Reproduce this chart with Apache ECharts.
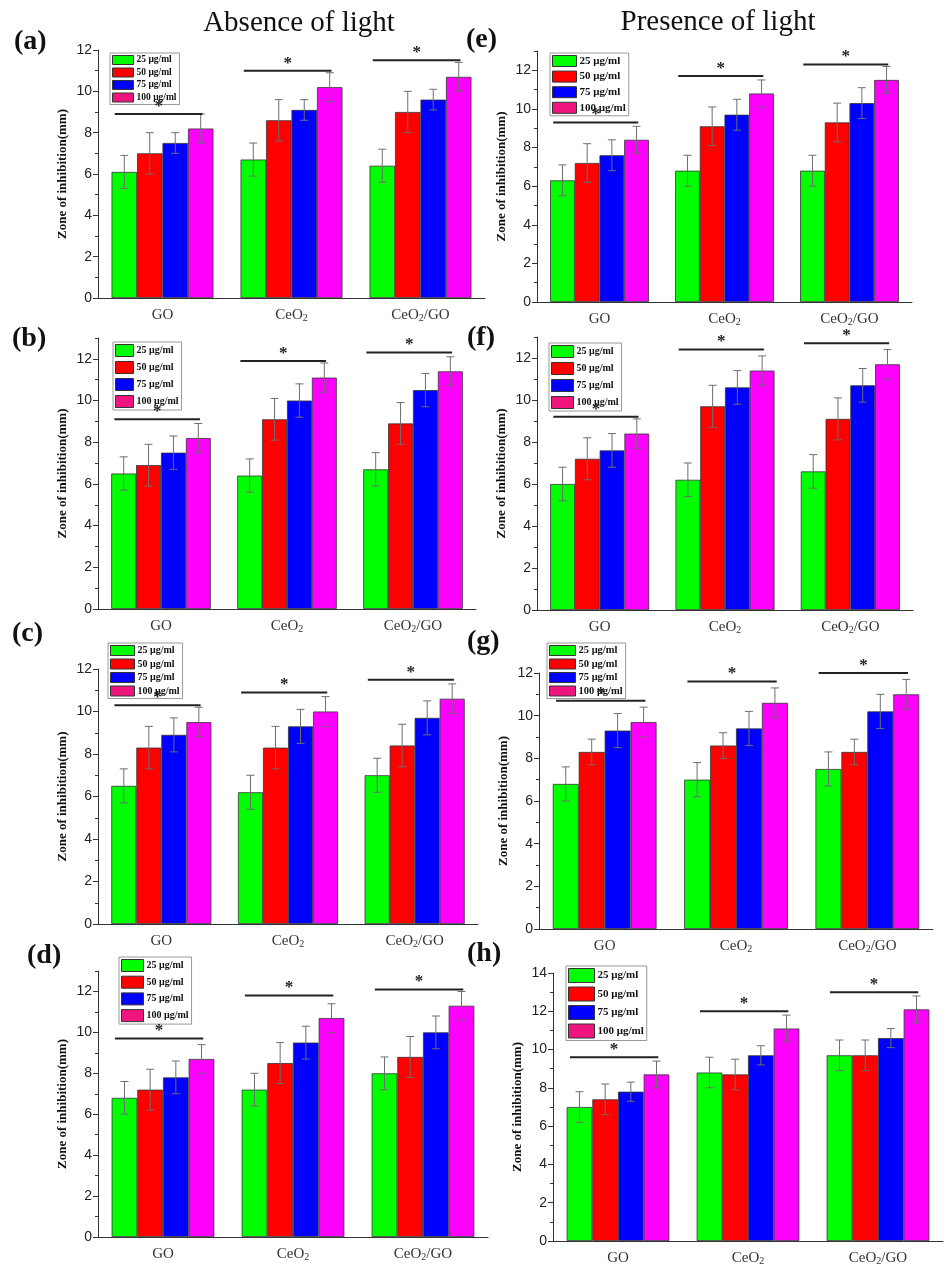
<!DOCTYPE html>
<html><head><meta charset="utf-8">
<script src="https://cdn.jsdelivr.net/npm/echarts@6/dist/echarts.min.js"></script>
<style>html,body{margin:0;padding:0;background:#fff}#c{width:945px;height:1266px}</style>
</head><body><div id="c"></div>
<script>
// ---------- DATA ----------
const categories = ['GO', 'CeO2', 'CeO2/GO'];
const concentrations = ['25 μg/ml', '50 μg/ml', '75 μg/ml', '100 μg/ml'];
const columnTitles = ['Absence of light', 'Presence of light'];
const panelLabels = ['(a)', '(b)', '(c)', '(d)', '(e)', '(f)', '(g)', '(h)'];
const yAxisTitle = 'Zone of inhibition(mm)';
const significanceMark = '*';

// each inner array = one concentration across [GO, CeO2, CeO2/GO]
const aValues = [[6.1, 6.7, 6.4], [7.0, 8.6, 9.0], [7.5, 9.1, 9.6], [8.2, 10.2, 10.7]];
const aErrors = [[0.8, 0.8, 0.8], [1.0, 1.0, 1.0], [0.5, 0.5, 0.5], [0.7, 0.7, 0.7]];
const aSignif = [8.9, 11.0, 11.5];

const bValues = [[6.5, 6.4, 6.7], [6.9, 9.1, 8.9], [7.5, 10.0, 10.5], [8.2, 11.1, 11.4]];
const bErrors = [[0.8, 0.8, 0.8], [1.0, 1.0, 1.0], [0.8, 0.8, 0.8], [0.7, 0.7, 0.7]];
const bSignif = [9.1, 11.9, 12.3];

const cValues = [[6.5, 6.2, 7.0], [8.3, 8.3, 8.4], [8.9, 9.3, 9.7], [9.5, 10.0, 10.6]];
const cErrors = [[0.8, 0.8, 0.8], [1.0, 1.0, 1.0], [0.8, 0.8, 0.8], [0.7, 0.7, 0.7]];
const cSignif = [10.3, 10.9, 11.5];

const dValues = [[6.8, 7.2, 8.0], [7.2, 8.5, 8.8], [7.8, 9.5, 10.0], [8.7, 10.7, 11.3]];
const dErrors = [[0.8, 0.8, 0.8], [1.0, 1.0, 1.0], [0.8, 0.8, 0.8], [0.7, 0.7, 0.7]];
const dSignif = [9.7, 11.8, 12.1];

const eValues = [[6.3, 6.8, 6.8], [7.2, 9.1, 9.3], [7.6, 9.7, 10.3], [8.4, 10.8, 11.5]];
const eErrors = [[0.8, 0.8, 0.8], [1.0, 1.0, 1.0], [0.8, 0.8, 0.8], [0.7, 0.7, 0.7]];
const eSignif = [9.3, 11.7, 12.3];

const fValues = [[6.0, 6.2, 6.6], [7.2, 9.7, 9.1], [7.6, 10.6, 10.7], [8.4, 11.4, 11.7]];
const fErrors = [[0.8, 0.8, 0.8], [1.0, 1.0, 1.0], [0.8, 0.8, 0.8], [0.7, 0.7, 0.7]];
const fSignif = [9.2, 12.4, 12.7];

const gValues = [[6.8, 7.0, 7.5], [8.3, 8.6, 8.3], [9.3, 9.4, 10.2], [9.7, 10.6, 11.0]];
const gErrors = [[0.8, 0.8, 0.8], [0.6, 0.6, 0.6], [0.8, 0.8, 0.8], [0.7, 0.7, 0.7]];
const gSignif = [10.7, 11.6, 12.0];

const hValues = [[7.0, 8.8, 9.7], [7.4, 8.7, 9.7], [7.8, 9.7, 10.6], [8.7, 11.1, 12.1]];
const hErrors = [[0.8, 0.8, 0.8], [0.8, 0.8, 0.8], [0.5, 0.5, 0.5], [0.7, 0.7, 0.7]];
const hSignif = [9.6, 12.0, 13.0];

const yMaxima = [12, 13, 12, 13, 13, 13, 12, 14];

// ---------- STYLE / LAYOUT ----------
const barColors = ['#00ff00', '#ff0000', '#0000ff', '#ff00ff'];
const legendColors = ['#00ff00', '#ff0000', '#0000ff', '#f0147f'];
const GAP = 0.21;
const SERIF = 'Liberation Serif';
const SANS = 'Liberation Sans';

const panels = [
  { vals: aValues, errs: aErrors, sig: aSignif, grid: [98, 50, 387, 248], lab: [14, 28],
    lg: { left: 110, top: 53, iw: 21, ih: 9, gap: 2.5, fs: 9.5 } },
  { vals: bValues, errs: bErrors, sig: bSignif, grid: [98, 338, 378, 271], lab: [12, 325],
    lg: { left: 113, top: 342, iw: 18, ih: 12, gap: 4, fs: 10 } },
  { vals: cValues, errs: cErrors, sig: cSignif, grid: [98, 669, 380, 255], lab: [12, 620],
    lg: { left: 108, top: 643, iw: 24, ih: 10, gap: 2.5, fs: 10 } },
  { vals: dValues, errs: dErrors, sig: dSignif, grid: [98, 971, 390, 266], lab: [27, 942],
    lg: { left: 119, top: 957, iw: 22, ih: 12, gap: 3.7, fs: 10 } },
  { vals: eValues, errs: eErrors, sig: eSignif, grid: [537, 51, 375, 251], lab: [466, 26],
    lg: { left: 550, top: 53, iw: 24, ih: 11, gap: 3.6, fs: 11 } },
  { vals: fValues, errs: fErrors, sig: fSignif, grid: [537, 337, 376, 273], lab: [467, 324],
    lg: { left: 549, top: 343, iw: 22, ih: 12, gap: 4, fs: 10 } },
  { vals: gValues, errs: gErrors, sig: gSignif, grid: [539, 673, 394, 256], lab: [467, 628],
    lg: { left: 547, top: 643, iw: 26, ih: 10, gap: 2.5, fs: 10.5 } },
  { vals: hValues, errs: hErrors, sig: hSignif, grid: [553, 973, 390, 269], lab: [467, 940],
    lg: { left: 566, top: 966, iw: 26, ih: 14, gap: 3.5, fs: 11 } }
];

function fmtCat(v) {
  if (v === 'GO') return '{n|GO}';
  if (v === 'CeO2') return '{n|CeO}{s|2}';
  return '{n|CeO}{s|2}{n|/GO}';
}
const richCat = {
  n: { fontFamily: SERIF, fontSize: 15, color: '#333', lineHeight: 18, verticalAlign: 'bottom' },
  s: { fontFamily: SERIF, fontSize: 10, color: '#333', lineHeight: 6, verticalAlign: 'bottom' }
};

function renderErr(params, api) {
  const j = api.value(0), v = api.value(1), e = api.value(2), k = api.value(3);
  const band = api.size([1, 0])[0];
  const bw = band * (1 - GAP) / 4;
  const c = api.coord([j, v]);
  const x = c[0] + (k - 1.5) * bw;
  const yt = api.coord([j, v + e])[1];
  const yb = api.coord([j, v - e])[1];
  const cap = 4;
  const st = { stroke: '#6e6e6e', lineWidth: 1 };
  return { type: 'group', children: [
    { type: 'line', shape: { x1: x, y1: yt, x2: x, y2: yb }, style: st },
    { type: 'line', shape: { x1: x - cap, y1: yt, x2: x + cap, y2: yt }, style: st },
    { type: 'line', shape: { x1: x - cap, y1: yb, x2: x + cap, y2: yb }, style: st }
  ] };
}

function renderSig(params, api) {
  const j = api.value(0), y = api.value(1);
  const band = api.size([1, 0])[0];
  const c = api.coord([j, y]);
  const x1 = c[0] - 0.37 * band, x2 = c[0] + 0.31 * band;
  return { type: 'group', children: [
    { type: 'line', shape: { x1: x1, y1: c[1], x2: x2, y2: c[1] }, style: { stroke: '#222', lineWidth: 2 } },
    { type: 'text', x: (x1 + x2) / 2, y: c[1] + 1,
      style: { text: significanceMark, fill: '#222', font: 'bold 17px "Liberation Serif"', align: 'center', verticalAlign: 'bottom' } }
  ] };
}

const option = {
  animation: false,
  backgroundColor: '#fff',
  title: [], grid: [], xAxis: [], yAxis: [], legend: [], series: []
};

option.title.push({ text: columnTitles[0], left: 299, top: 9, padding: 0, textAlign: 'center',
  textStyle: { fontFamily: SERIF, fontWeight: 'normal', fontSize: 29, color: '#111' } });
option.title.push({ text: columnTitles[1], left: 718, top: 8, padding: 0, textAlign: 'center',
  textStyle: { fontFamily: SERIF, fontWeight: 'normal', fontSize: 29, color: '#111' } });

panels.forEach((p, i) => {
  option.title.push({ text: panelLabels[i], left: p.lab[0], top: p.lab[1], padding: 0,
    textStyle: { fontFamily: SERIF, fontWeight: 'bold', fontSize: 28, color: '#111' } });

  option.grid.push({ left: p.grid[0], top: p.grid[1], width: p.grid[2], height: p.grid[3] });

  option.xAxis.push({ gridIndex: i, type: 'category', data: categories,
    axisLine: { lineStyle: { color: '#333', width: 1 } },
    axisTick: { alignWithLabel: true, length: 5, lineStyle: { color: '#333' } },
    axisLabel: { interval: 0, margin: 7, formatter: fmtCat, rich: richCat } });
  option.xAxis.push({ gridIndex: i, type: 'category', data: categories, position: 'bottom',
    axisLine: { show: false }, axisLabel: { show: false },
    axisTick: { inside: true, length: 4, lineStyle: { color: '#333' } } });

  const max = yMaxima[i];
  const major = [], minor = [];
  for (let v = 0; v <= max; v++) (v % 2 === 0 ? major : minor).push(v);
  option.yAxis.push({ gridIndex: i, type: 'value', min: 0, max: max,
    name: yAxisTitle, nameLocation: 'middle', nameGap: 29,
    nameTextStyle: { fontFamily: SERIF, fontWeight: 'bold', fontSize: 13, color: '#111' },
    axisLine: { show: true, lineStyle: { color: '#333' } },
    axisTick: { show: true, length: 5, customValues: major, lineStyle: { color: '#333' } },
    axisLabel: { customValues: major, margin: 6, fontFamily: SANS, fontSize: 14, color: '#222' },
    splitLine: { show: false } });
  option.yAxis.push({ gridIndex: i, type: 'value', min: 0, max: max, position: 'left',
    axisLine: { show: false }, axisLabel: { show: false }, splitLine: { show: false },
    axisTick: { show: true, length: 3, customValues: minor, lineStyle: { color: '#333' } } });

  option.legend.push({ left: p.lg.left, top: p.lg.top, orient: 'vertical', icon: 'rect',
    itemWidth: p.lg.iw, itemHeight: p.lg.ih, itemGap: p.lg.gap, padding: [2, 3, 2, 2],
    borderColor: '#999', borderWidth: 1, backgroundColor: '#fff',
    itemStyle: { borderColor: '#333', borderWidth: 1 },
    textStyle: { fontFamily: SERIF, fontWeight: 'bold', fontSize: p.lg.fs, lineHeight: p.lg.ih,
      color: '#111', padding: [0, 0, 0, -2] },
    data: concentrations.map((n, k) => ({ name: n, itemStyle: { color: legendColors[k] } })) });

  const errData = [];
  concentrations.forEach((name, k) => {
    option.series.push({ type: 'bar', name: name, xAxisIndex: 2 * i, yAxisIndex: 2 * i,
      data: p.vals[k], barGap: '0%', barCategoryGap: (GAP * 100) + '%',
      itemStyle: { color: barColors[k], borderColor: '#333', borderWidth: 0.8 } });
    p.vals[k].forEach((v, j) => errData.push([j, v, p.errs[k][j], k]));
  });
  option.series.push({ type: 'custom', xAxisIndex: 2 * i, yAxisIndex: 2 * i, z: 5,
    renderItem: renderErr, encode: { x: 0, y: 1 }, data: errData, silent: true });
  option.series.push({ type: 'custom', xAxisIndex: 2 * i, yAxisIndex: 2 * i, z: 6,
    renderItem: renderSig, encode: { x: 0, y: 1 }, data: p.sig.map((v, j) => [j, v]), silent: true });
});

const chart = echarts.init(document.getElementById('c'), null, { renderer: 'canvas' });
chart.setOption(option);
</script>
</body></html>
